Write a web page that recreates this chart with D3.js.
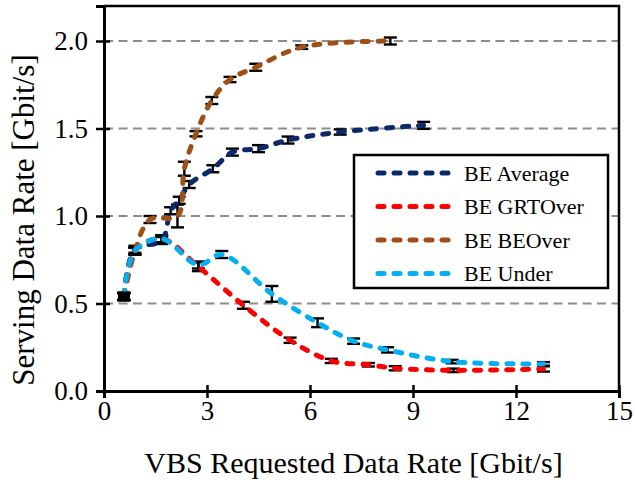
<!DOCTYPE html>
<html>
<head>
<meta charset="utf-8">
<script src="https://cdn.jsdelivr.net/npm/d3@7"></script>
<style>
  body { margin: 0; background: #fff; }
  text { font-family: "Liberation Serif", "Times New Roman", serif; fill: #000; }
</style>
</head>
<body>
<svg id="chart" width="635" height="482"></svg>
<script>
// values
var seriesNames = ["BE Average", "BE GRTOver", "BE BEOver", "BE Under"];
var seriesColors = ["#0c2a6b", "#ff0000", "#9e5016", "#00b0f0"];

var avgX = [0.58, 0.9, 1.68, 1.94, 2.19, 2.48, 3.17, 3.74, 4.5, 5.36, 6.88, 9.31];
var avgY = [0.54, 0.81, 0.86, 1.03, 1.09, 1.18, 1.27, 1.365, 1.385, 1.434, 1.48, 1.518];
var avgE = [0.02, 0.02, 0.02, 0.02, 0.02, 0.02, 0.02, 0.02, 0.02, 0.02, 0.015, 0.02];

var grtX = [0.58, 0.9, 1.68, 2.75, 4.06, 5.42, 6.62, 7.7, 8.48, 10.18, 12.8];
var grtY = [0.54, 0.8, 0.87, 0.71, 0.49, 0.29, 0.172, 0.15, 0.13, 0.118, 0.126];
var grtE = [0.02, 0.02, 0.02, 0.025, 0.02, 0.015, 0.012, 0.01, 0.012, 0.01, 0.015];

var beoX = [0.58, 0.9, 1.34, 2.14, 2.34, 2.68, 3.14, 3.67, 4.42, 5.76, 8.34];
var beoY = [0.54, 0.8, 0.98, 1.0, 1.27, 1.47, 1.66, 1.78, 1.85, 1.965, 2.0];
var beoE = [0.02, 0.02, 0.02, 0.065, 0.04, 0.015, 0.02, 0.015, 0.02, 0.01, 0.02];

var undX = [0.58, 0.9, 1.68, 2.75, 3.43, 4.89, 6.22, 7.27, 8.26, 10.14, 12.8];
var undY = [0.54, 0.8, 0.87, 0.72, 0.78, 0.555, 0.39, 0.285, 0.235, 0.168, 0.155];
var undE = [0.02, 0.02, 0.02, 0.02, 0.02, 0.045, 0.025, 0.015, 0.015, 0.01, 0.01];

var xTicks = [0, 3, 6, 9, 12, 15];
var yTicks = [0, 0.5, 1.0, 1.5, 2.0];
var gridY = [0.5, 1.0, 1.5, 2.0];

var svg = d3.select("#chart"),
    margin = {top: 6, right: 16, bottom: 91, left: 104},
    width = +svg.attr("width") - margin.left - margin.right,
    height = +svg.attr("height") - margin.top - margin.bottom;

var x = d3.scaleLinear().domain([0, 15]).range([0, width]);
var y = d3.scaleLinear().domain([0, 2.2]).range([height, 0]);

var g = svg.append("g").attr("transform", "translate(" + margin.left + "," + margin.top + ")");

// dashed gray gridlines
g.append("g").selectAll("line")
    .data(gridY)
    .enter().append("line")
    .attr("x1", 0).attr("x2", width)
    .attr("y1", function (d) { return y(d); })
    .attr("y2", function (d) { return y(d); })
    .attr("stroke", "#8c8c8c")
    .attr("stroke-width", 2)
    .attr("stroke-dasharray", "9,5.5");

// plot frame (top and right)
g.append("path")
    .attr("d", "M0,0H" + width + "V" + height)
    .attr("fill", "none")
    .attr("stroke", "#000")
    .attr("stroke-width", 2.5);

var xAxis = g.append("g")
    .attr("transform", "translate(0," + height + ")")
    .call(d3.axisBottom(x).tickValues(xTicks).tickSize(7).tickPadding(3).tickFormat(d3.format("d")));
var yAxis = g.append("g")
    .call(d3.axisLeft(y).tickValues(yTicks).tickSize(8).tickPadding(8).tickFormat(d3.format(".1f")));

[xAxis, yAxis].forEach(function (ax) {
    ax.select(".domain").attr("stroke-width", 3);
    ax.selectAll(".tick line").attr("stroke-width", 2.5);
    ax.selectAll("text")
        .style("font-family", '"Liberation Serif", serif')
        .style("font-size", "27px");
});
// ticks cross the axis
xAxis.selectAll(".tick line").attr("y1", -6);
yAxis.selectAll(".tick line").attr("x1", 6);

svg.append("text")
    .attr("x", margin.left + width / 2 - 8)
    .attr("y", 473)
    .attr("text-anchor", "middle")
    .style("font-size", "30px")
    .text("VBS Requested Data Rate [Gbit/s]");

svg.append("text")
    .attr("transform", "translate(34,220) rotate(-90)")
    .attr("text-anchor", "middle")
    .style("font-size", "31px")
    .text("Serving Data Rate [Gbit/s]");

function zip(xs, ys, es) {
    return xs.map(function (v, i) { return {x: v, y: ys[i], e: es[i]}; });
}

var series = [zip(avgX, avgY, avgE), zip(grtX, grtY, grtE), zip(beoX, beoY, beoE), zip(undX, undY, undE)];

var line = d3.line()
    .x(function (d) { return x(d.x); })
    .y(function (d) { return y(d.y); })
    .curve(d3.curveCatmullRom.alpha(0.5));

// error bars
series.forEach(function (pts) {
    var eb = g.append("g").selectAll("g")
        .data(pts)
        .enter().append("g")
        .attr("stroke", "#000")
        .attr("stroke-width", 2.4);
    eb.append("line")
        .attr("x1", function (d) { return x(d.x); })
        .attr("x2", function (d) { return x(d.x); })
        .attr("y1", function (d) { return y(d.y - d.e); })
        .attr("y2", function (d) { return y(d.y + d.e); });
    [-1, 1].forEach(function (s) {
        eb.append("line")
            .attr("x1", function (d) { return x(d.x) - 6.5; })
            .attr("x2", function (d) { return x(d.x) + 6.5; })
            .attr("y1", function (d) { return y(d.y + s * d.e); })
            .attr("y2", function (d) { return y(d.y + s * d.e); });
    });
});

var drawOrder = [0, 2, 1, 3];
drawOrder.forEach(function (i) {
    g.append("path")
        .datum(series[i])
        .attr("d", line)
        .attr("fill", "none")
        .attr("stroke", seriesColors[i])
        .attr("stroke-width", 5)
        .attr("stroke-linecap", "round")
        .attr("stroke-dasharray", "6,10");
});

// first point marker
g.append("rect")
    .attr("x", x(avgX[0]) - 6)
    .attr("y", y(avgY[0]) - 5)
    .attr("width", 12)
    .attr("height", 10)
    .attr("fill", "#000");

// legend
var legend = svg.append("g").attr("transform", "translate(354,155)");
legend.append("rect")
    .attr("width", 254)
    .attr("height", 133)
    .attr("fill", "#fff")
    .attr("stroke", "#000")
    .attr("stroke-width", 2.5);

var item = legend.selectAll(".item")
    .data(seriesNames)
    .enter().append("g")
    .attr("class", "item")
    .attr("transform", function (d, i) { return "translate(0," + (18 + i * 33.5) + ")"; });

item.append("line")
    .attr("x1", 24).attr("x2", 101)
    .attr("stroke", function (d, i) { return seriesColors[i]; })
    .attr("stroke-width", 5)
    .attr("stroke-linecap", "round")
    .attr("stroke-dasharray", "6,10");

item.append("text")
    .attr("x", 110)
    .attr("y", 7.5)
    .style("font-size", "22px")
    .text(function (d) { return d; });
</script>
</body>
</html>
